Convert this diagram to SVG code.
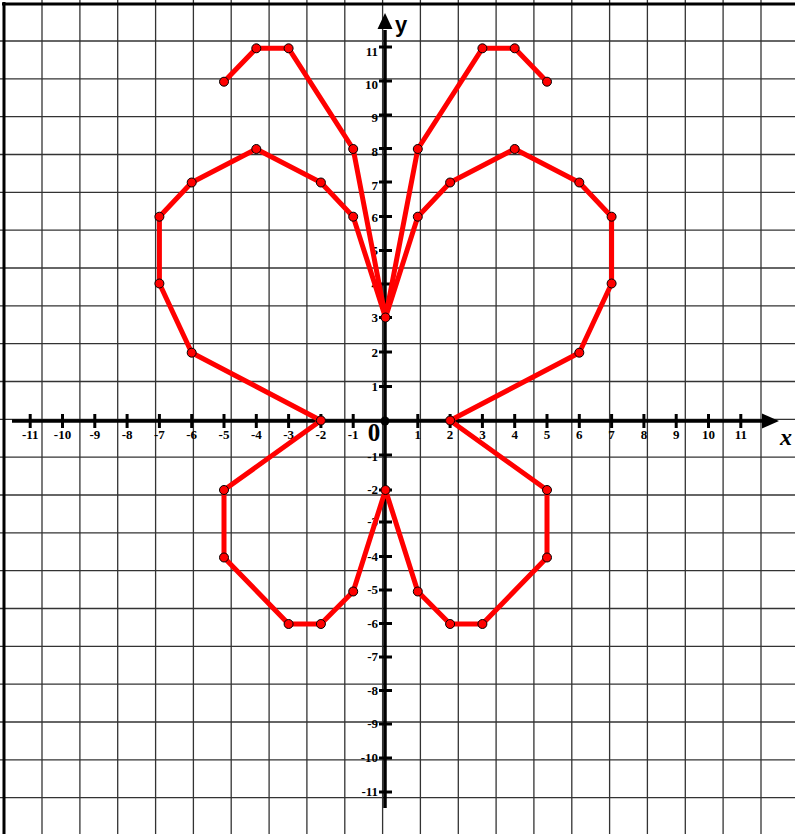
<svg xmlns="http://www.w3.org/2000/svg" width="795" height="834" viewBox="0 0 795 834">
<style>
.grid line{stroke:#333;stroke-width:1.3}
.axis{stroke:#000;stroke-width:3.5;fill:none}
.tick{stroke:#000;stroke-width:3}
.lbl{font-family:"Liberation Serif","DejaVu Serif",serif;font-weight:bold;font-size:13px;fill:#000}
.xl{text-anchor:middle}
.yl{text-anchor:end}
.curve{stroke:#ff0000;stroke-width:5;fill:none;stroke-linejoin:round;stroke-linecap:round}
.pt{fill:#ff0000;stroke:#000;stroke-width:1}
</style>
<rect width="795" height="834" fill="#fff"/>
<g id="grid" class="grid">
<line x1="42" y1="0" x2="42" y2="834"/><line x1="79.9" y1="0" x2="79.9" y2="834"/><line x1="117.7" y1="0" x2="117.7" y2="834"/><line x1="155.6" y1="0" x2="155.6" y2="834"/><line x1="193.4" y1="0" x2="193.4" y2="834"/><line x1="231.2" y1="0" x2="231.2" y2="834"/><line x1="269.1" y1="0" x2="269.1" y2="834"/><line x1="306.9" y1="0" x2="306.9" y2="834"/><line x1="344.8" y1="0" x2="344.8" y2="834"/><line x1="382.6" y1="0" x2="382.6" y2="834"/><line x1="420.4" y1="0" x2="420.4" y2="834"/><line x1="458.3" y1="0" x2="458.3" y2="834"/><line x1="496.1" y1="0" x2="496.1" y2="834"/><line x1="533.9" y1="0" x2="533.9" y2="834"/><line x1="571.8" y1="0" x2="571.8" y2="834"/><line x1="609.6" y1="0" x2="609.6" y2="834"/><line x1="647.4" y1="0" x2="647.4" y2="834"/><line x1="685.3" y1="0" x2="685.3" y2="834"/><line x1="723.1" y1="0" x2="723.1" y2="834"/><line x1="761" y1="0" x2="761" y2="834"/>
<line x1="0" y1="41" x2="795" y2="41"/><line x1="0" y1="78.8" x2="795" y2="78.8"/><line x1="0" y1="116.7" x2="795" y2="116.7"/><line x1="0" y1="154.5" x2="795" y2="154.5"/><line x1="0" y1="192.3" x2="795" y2="192.3"/><line x1="0" y1="230.2" x2="795" y2="230.2"/><line x1="0" y1="268" x2="795" y2="268"/><line x1="0" y1="305.8" x2="795" y2="305.8"/><line x1="0" y1="343.6" x2="795" y2="343.6"/><line x1="0" y1="381.5" x2="795" y2="381.5"/><line x1="0" y1="419.3" x2="795" y2="419.3"/><line x1="0" y1="457.1" x2="795" y2="457.1"/><line x1="0" y1="495" x2="795" y2="495"/><line x1="0" y1="532.8" x2="795" y2="532.8"/><line x1="0" y1="570.6" x2="795" y2="570.6"/><line x1="0" y1="608.5" x2="795" y2="608.5"/><line x1="0" y1="646.3" x2="795" y2="646.3"/><line x1="0" y1="684.1" x2="795" y2="684.1"/><line x1="0" y1="722" x2="795" y2="722"/><line x1="0" y1="759.8" x2="795" y2="759.8"/><line x1="0" y1="797.6" x2="795" y2="797.6"/>
</g>
<g id="border" stroke="#000" stroke-width="3">
<line x1="4" y1="2" x2="4" y2="834"/>
<line x1="2" y1="4" x2="795" y2="4"/>
</g>
<g id="axes">
<line class="axis" x1="12" y1="421" x2="766" y2="421"/>
<polygon points="762,413.5 779,421 762,428.5" fill="#000"/>
<line class="axis" x1="385" y1="808" x2="385" y2="30"/>
<polygon points="377.5,29 385,13 392.5,29" fill="#000"/>
<circle cx="385" cy="421" r="4.5" fill="#000"/>
<g class="tick">
<line x1="30.2" y1="414" x2="30.2" y2="428"/><line x1="62.5" y1="414" x2="62.5" y2="428"/><line x1="94.8" y1="414" x2="94.8" y2="428"/><line x1="127.1" y1="414" x2="127.1" y2="428"/><line x1="159.4" y1="414" x2="159.4" y2="428"/><line x1="191.7" y1="414" x2="191.7" y2="428"/><line x1="224" y1="414" x2="224" y2="428"/><line x1="256.3" y1="414" x2="256.3" y2="428"/><line x1="288.6" y1="414" x2="288.6" y2="428"/><line x1="320.9" y1="414" x2="320.9" y2="428"/><line x1="353.2" y1="414" x2="353.2" y2="428"/>
<line x1="417.8" y1="414" x2="417.8" y2="428"/><line x1="450.1" y1="414" x2="450.1" y2="428"/><line x1="482.4" y1="414" x2="482.4" y2="428"/><line x1="514.7" y1="414" x2="514.7" y2="428"/><line x1="547" y1="414" x2="547" y2="428"/><line x1="579.3" y1="414" x2="579.3" y2="428"/><line x1="611.6" y1="414" x2="611.6" y2="428"/><line x1="643.9" y1="414" x2="643.9" y2="428"/><line x1="676.2" y1="414" x2="676.2" y2="428"/><line x1="708.5" y1="414" x2="708.5" y2="428"/><line x1="740.8" y1="414" x2="740.8" y2="428"/>
<line x1="379" y1="47" x2="392" y2="47"/><line x1="379" y1="81" x2="392" y2="81"/><line x1="379" y1="115" x2="392" y2="115"/><line x1="379" y1="148.5" x2="392" y2="148.5"/><line x1="379" y1="182" x2="392" y2="182"/><line x1="379" y1="216.5" x2="392" y2="216.5"/><line x1="379" y1="250.5" x2="392" y2="250.5"/><line x1="379" y1="284" x2="392" y2="284"/><line x1="379" y1="317.5" x2="392" y2="317.5"/><line x1="379" y1="352" x2="392" y2="352"/><line x1="379" y1="386.5" x2="392" y2="386.5"/>
<line x1="379" y1="455" x2="392" y2="455"/><line x1="379" y1="490" x2="392" y2="490"/><line x1="379" y1="522" x2="392" y2="522"/><line x1="379" y1="556.5" x2="392" y2="556.5"/><line x1="379" y1="590" x2="392" y2="590"/><line x1="379" y1="623.5" x2="392" y2="623.5"/><line x1="379" y1="657" x2="392" y2="657"/><line x1="379" y1="690.5" x2="392" y2="690.5"/><line x1="379" y1="724" x2="392" y2="724"/><line x1="379" y1="758" x2="392" y2="758"/><line x1="379" y1="792" x2="392" y2="792"/>
</g>
</g>
<g id="labels" class="lbl">
<g class="xl">
<text x="30.2" y="439">-11</text><text x="62.5" y="439">-10</text><text x="94.8" y="439">-9</text><text x="127.1" y="439">-8</text><text x="159.4" y="439">-7</text><text x="191.7" y="439">-6</text><text x="224" y="439">-5</text><text x="256.3" y="439">-4</text><text x="288.6" y="439">-3</text><text x="320.9" y="439">-2</text><text x="353.2" y="439">-1</text>
<text x="417.8" y="439">1</text><text x="450.1" y="439">2</text><text x="482.4" y="439">3</text><text x="514.7" y="439">4</text><text x="547" y="439">5</text><text x="579.3" y="439">6</text><text x="611.6" y="439">7</text><text x="643.9" y="439">8</text><text x="676.2" y="439">9</text><text x="708.5" y="439">10</text><text x="740.8" y="439">11</text>
</g>
<g class="yl">
<text x="378" y="56">11</text><text x="378" y="89">10</text><text x="378" y="122">9</text><text x="378" y="156">8</text><text x="378" y="190">7</text><text x="378" y="222">6</text><text x="378" y="255">5</text><text x="378" y="289">4</text><text x="378" y="322">3</text><text x="378" y="357">2</text><text x="378" y="391">1</text>
<text x="378" y="461">-1</text><text x="378" y="494">-2</text><text x="378" y="526">-3</text><text x="378" y="561">-4</text><text x="378" y="594">-5</text><text x="378" y="628">-6</text><text x="378" y="661">-7</text><text x="378" y="695">-8</text><text x="378" y="728">-9</text><text x="378" y="762">-10</text><text x="378" y="796">-11</text>
</g>
<text x="374" y="441" text-anchor="middle" font-size="25">0</text>
<text x="395" y="32" font-family="Liberation Sans,Arial,sans-serif" font-size="22">y</text>
<text x="780" y="445" font-size="24" font-style="italic">x</text>
</g>
<g id="connectors" class="curve">
<polyline points="224,81.7 256.3,48.3 288.6,48.3 353.2,149 385.5,317.5 417.8,149 482.4,48.3 514.7,48.3 547,81.7"/>
<polyline points="385.5,317.5 353.2,216.7 320.9,182.5 256.3,149 191.7,182.5 159.4,216.7 159.4,283.5 191.7,352.7 320.9,420.5 224,490 224,557.5 288.6,624 320.9,624 353.2,591.5 385.5,490 417.8,591.5 450.1,624 482.4,624 547,557.5 547,490 450.1,420.5 579.3,352.7 611.6,283.5 611.6,216.7 579.3,182.5 514.7,149 450.1,182.5 417.8,216.7 385.5,317.5"/>
</g>
<g id="points" class="pt">
<circle id="p-5_10" cx="224" cy="81.7" r="4.5"/>
<circle id="p-4_11" cx="256.3" cy="48.3" r="4.5"/>
<circle id="p-3_11" cx="288.6" cy="48.3" r="4.5"/>
<circle id="p-1_8" cx="353.2" cy="149" r="4.5"/>
<circle id="p0_3" cx="385.5" cy="317.5" r="4.5"/>
<circle id="p1_8" cx="417.8" cy="149" r="4.5"/>
<circle id="p3_11" cx="482.4" cy="48.3" r="4.5"/>
<circle id="p4_11" cx="514.7" cy="48.3" r="4.5"/>
<circle id="p5_10" cx="547" cy="81.7" r="4.5"/>
<circle id="p-1_6" cx="353.2" cy="216.7" r="4.5"/>
<circle id="p-2_7" cx="320.9" cy="182.5" r="4.5"/>
<circle id="p-4_8" cx="256.3" cy="149" r="4.5"/>
<circle id="p-6_7" cx="191.7" cy="182.5" r="4.5"/>
<circle id="p-7_6" cx="159.4" cy="216.7" r="4.5"/>
<circle id="p-7_4" cx="159.4" cy="283.5" r="4.5"/>
<circle id="p-6_2" cx="191.7" cy="352.7" r="4.5"/>
<circle id="p-2_0" cx="320.9" cy="420.5" r="4.5"/>
<circle id="p-5_-2" cx="224" cy="490" r="4.5"/>
<circle id="p-5_-4" cx="224" cy="557.5" r="4.5"/>
<circle id="p-3_-6" cx="288.6" cy="624" r="4.5"/>
<circle id="p-2_-6" cx="320.9" cy="624" r="4.5"/>
<circle id="p-1_-5" cx="353.2" cy="591.5" r="4.5"/>
<circle id="p0_-2" cx="385.5" cy="490" r="4.5"/>
<circle id="p1_-5" cx="417.8" cy="591.5" r="4.5"/>
<circle id="p2_-6" cx="450.1" cy="624" r="4.5"/>
<circle id="p3_-6" cx="482.4" cy="624" r="4.5"/>
<circle id="p5_-4" cx="547" cy="557.5" r="4.5"/>
<circle id="p5_-2" cx="547" cy="490" r="4.5"/>
<circle id="p2_0" cx="450.1" cy="420.5" r="4.5"/>
<circle id="p6_2" cx="579.3" cy="352.7" r="4.5"/>
<circle id="p7_4" cx="611.6" cy="283.5" r="4.5"/>
<circle id="p7_6" cx="611.6" cy="216.7" r="4.5"/>
<circle id="p6_7" cx="579.3" cy="182.5" r="4.5"/>
<circle id="p4_8" cx="514.7" cy="149" r="4.5"/>
<circle id="p2_7" cx="450.1" cy="182.5" r="4.5"/>
<circle id="p1_6" cx="417.8" cy="216.7" r="4.5"/>
</g>
</svg>
